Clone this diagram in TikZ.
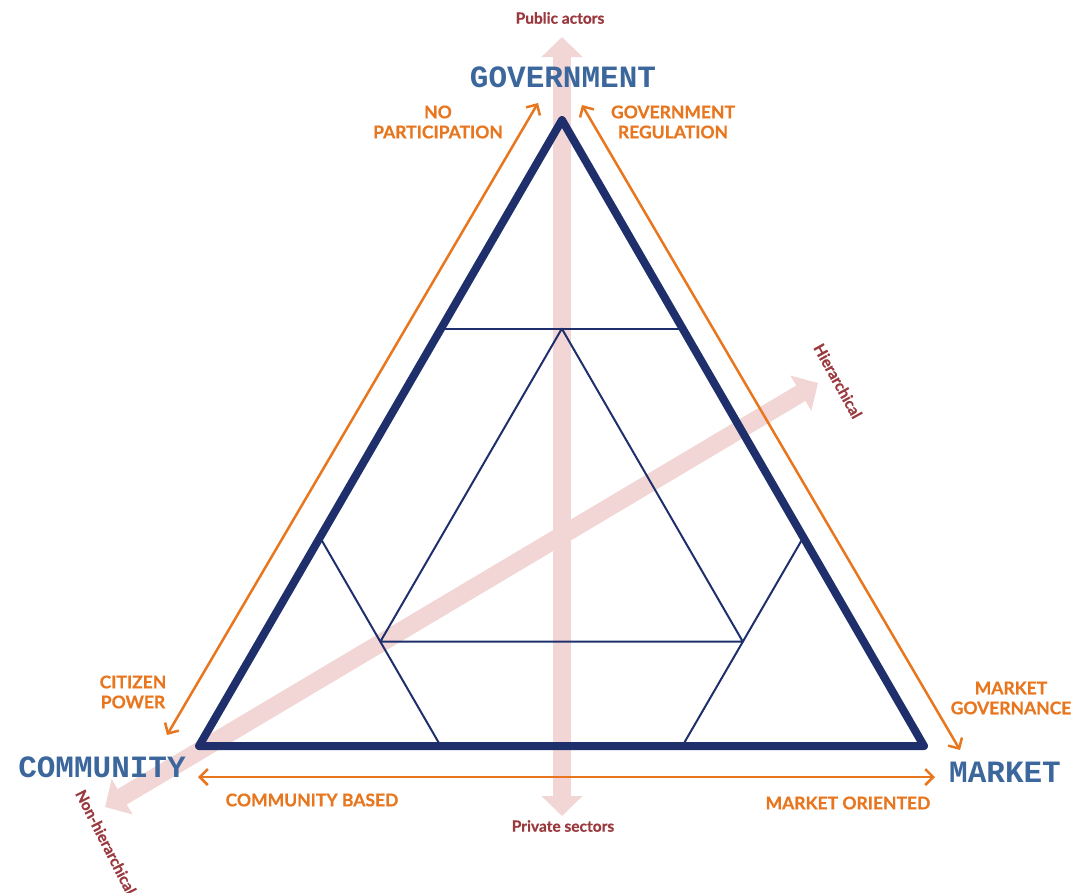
\documentclass[tikz,border=0pt]{standalone}
\usepackage{fontspec}
\setmainfont{Lato}[BoldFeatures={FakeBold=0.6}]
\newfontfamily\monof{Liberation Mono}
\usetikzlibrary{arrows.meta,calc}
\definecolor{navy}{HTML}{1F2F6B}
\definecolor{lblue}{HTML}{3B679C}
\definecolor{orng}{HTML}{E8761E}
\definecolor{dred}{HTML}{9A3A3F}
\definecolor{pinkk}{HTML}{F2D6D6}
\begin{document}
\begin{tikzpicture}[x=1pt,y=-1pt,
 corner/.style={font=\monof\bfseries\fontsize{31}{31}\selectfont, text=lblue, inner sep=0pt},
 olabel/.style={font=\bfseries\fontsize{17.5}{20}\selectfont, text=orng, align=center, inner sep=0pt},
 rlabel/.style={font=\bfseries\fontsize{15.5}{17}\selectfont, text=dred, inner sep=0pt},
 oarrow/.style={draw=orng, line width=2.5pt, {Straight Barb[length=8pt,width=16pt]}-{Straight Barb[length=8pt,width=16pt]}},
 parrow/.style={draw=pinkk, line width=18pt, {Triangle[length=20pt,width=40pt]}-{Triangle[length=20pt,width=40pt]}},
 outer/.style={draw=navy, line width=8pt, line join=round},
 inner/.style={draw=navy, line width=2pt, line join=round},
]
\useasboundingbox (0,0) rectangle (1086,892);
% pink axes
\coordinate (vt) at (562,37);
\coordinate (vb) at (562,816);
\coordinate (dl) at (105,807);
\coordinate (dr) at (818,383);
\draw[parrow] (vb) -- (vt);
\draw[parrow] (dl) -- (dr);
% triangle
\coordinate (T) at (562,120);
\coordinate (L) at (199,746);
\coordinate (R) at (924,746);
\coordinate (TL) at ($(T)!1/3!(L)$);
\coordinate (TR) at ($(T)!1/3!(R)$);
\coordinate (LT) at ($(L)!1/3!(T)$);
\coordinate (LR) at ($(L)!1/3!(R)$);
\coordinate (RT) at ($(R)!1/3!(T)$);
\coordinate (RL) at ($(R)!1/3!(L)$);
\coordinate (IA) at ($(TL)!.5!(TR)$);
\coordinate (IB) at ($(LT)!.5!(LR)$);
\coordinate (IC) at ($(RT)!.5!(RL)$);
\draw[inner] (TL) -- (TR);
\draw[inner] (LT) -- (LR);
\draw[inner] (RT) -- (RL);
\draw[inner] (IA) -- (IB) -- (IC) -- cycle;
\draw[outer] (T) -- (L) -- (R) -- cycle;
% orange arrows
\coordinate (a1) at (538,103);
\coordinate (a2) at (167,735);
\coordinate (b1) at (582,105);
\coordinate (b2) at (960,750);
\coordinate (c1) at (198,777);
\coordinate (c2) at (935,777);
\draw[oarrow] (a1) -- (a2);
\draw[oarrow] (b1) -- (b2);
\draw[oarrow] (c1) -- (c2);
% corner labels
\node[corner] (gov) at (563,77) {GOVERNMENT};
\node[corner] (com) at (102,767) {COMMUNITY};
\node[corner] (mar) at (1005,772) {MARKET};
% orange labels
\node[olabel] (nop) at (438,122) {NO\\PARTICIPATION};
\node[olabel] (greg) at (673,122) {GOVERNMENT\\REGULATION};
\node[olabel] (cit) at (133,692) {CITIZEN\\POWER};
\node[olabel] (mgov) at (1011,698) {MARKET\\GOVERNANCE};
\node[olabel] (cb) at (312,800) {COMMUNITY BASED};
\node[olabel] (mo) at (848,803) {MARKET ORIENTED};
% axis labels
\node[rlabel] (pub) at (560,18) {Public actors};
\node[rlabel] (priv) at (563,826) {Private sectors};
\node[rlabel, rotate=-61] (hier) at (838,381) {Hierarchical};
\node[rlabel, rotate=-63] (nonh) at (106,842) {Non-hierarchical};
\end{tikzpicture}
\end{document}
